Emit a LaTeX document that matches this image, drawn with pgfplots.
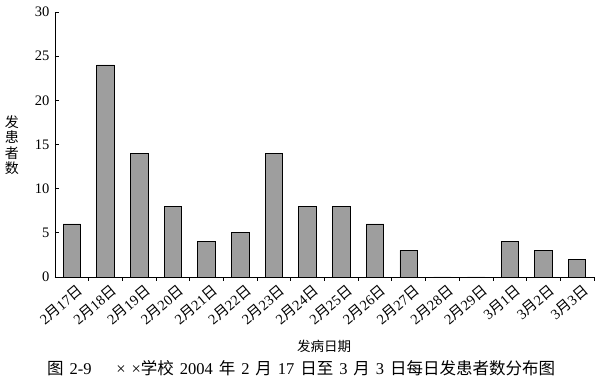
\documentclass[border=0pt]{standalone}
\usepackage{fontspec}
\setmainfont{Liberation Serif}
\newfontfamily\cjk{Noto Sans CJK SC}
\usepackage{pgfplots}
\pgfplotsset{compat=1.18}
\newcommand{\yue}{{\cjk 月}}
\newcommand{\ri}{{\cjk 日}}
\newcommand{\dl}[2]{#1\yue#2\ri}
\newcommand{\s}{\hspace{0.36em}}
\begin{document}
\begin{tikzpicture}
\path[use as bounding box] (-55pt,-103pt) rectangle (543pt,277pt);
\begin{axis}[
  at={(0pt,0pt)}, anchor=south west,
  scale only axis, width=539pt, height=265pt,
  xmin=-0.5, xmax=15.5, ymin=0, ymax=30,
  axis lines*=left,
  axis line style={line width=0.9pt},
  ytick={0,5,...,30},
  xtick={0,...,15},
  xticklabels={\dl{2}{17},\dl{2}{18},\dl{2}{19},\dl{2}{20},\dl{2}{21},\dl{2}{22},\dl{2}{23},\dl{2}{24},\dl{2}{25},\dl{2}{26},\dl{2}{27},\dl{2}{28},\dl{2}{29},\dl{3}{1},\dl{3}{2},\dl{3}{3}},
  minor xtick={0.5,1.5,...,15.5},
  major x tick style={draw=none},
  minor tick length=4pt,
  major tick length=4pt,
  tick align=inside,
  tick style={line width=0.8pt, black},
  /pgf/number format/assume math mode=true,
  yticklabel style={font=\fontsize{14.5}{15}\selectfont, xshift=-2pt},
  xticklabel style={font=\fontsize{14.5}{15}\selectfont, rotate=40, anchor=north east, inner sep=1pt, xshift=3pt, yshift=-4pt},
  ybar, bar width=17.5pt,
  clip=false,
]
\addplot[fill=black!38, draw=black, line width=0.9pt] coordinates {
(0,6) (1,24) (2,14) (3,8) (4,4) (5,5) (6,14) (7,8) (8,8) (9,6) (10,3) (11,0) (12,0) (13,4) (14,3) (15,2)};
\end{axis}
\node[font=\cjk\fontsize{14}{15.5}\selectfont, align=center] at (-43pt,132pt) {发\\患\\者\\数};
\node[font=\cjk\fontsize{13.5}{14}\selectfont] at (269pt,-69pt) {发病日期};
\node[font=\fontsize{16.5}{17}\selectfont, anchor=west, inner sep=0pt] at (-8pt,-91pt) {{\cjk 图}\s 2-9\hspace{1.5em}×\s×{\cjk 学校}\s 2004\s{\cjk 年}\s 2\s{\cjk 月}\s 17\s{\cjk 日至}\s 3\s{\cjk 月}\s 3\s{\cjk 日每日发患者数分布图}};
\end{tikzpicture}
\end{document}
